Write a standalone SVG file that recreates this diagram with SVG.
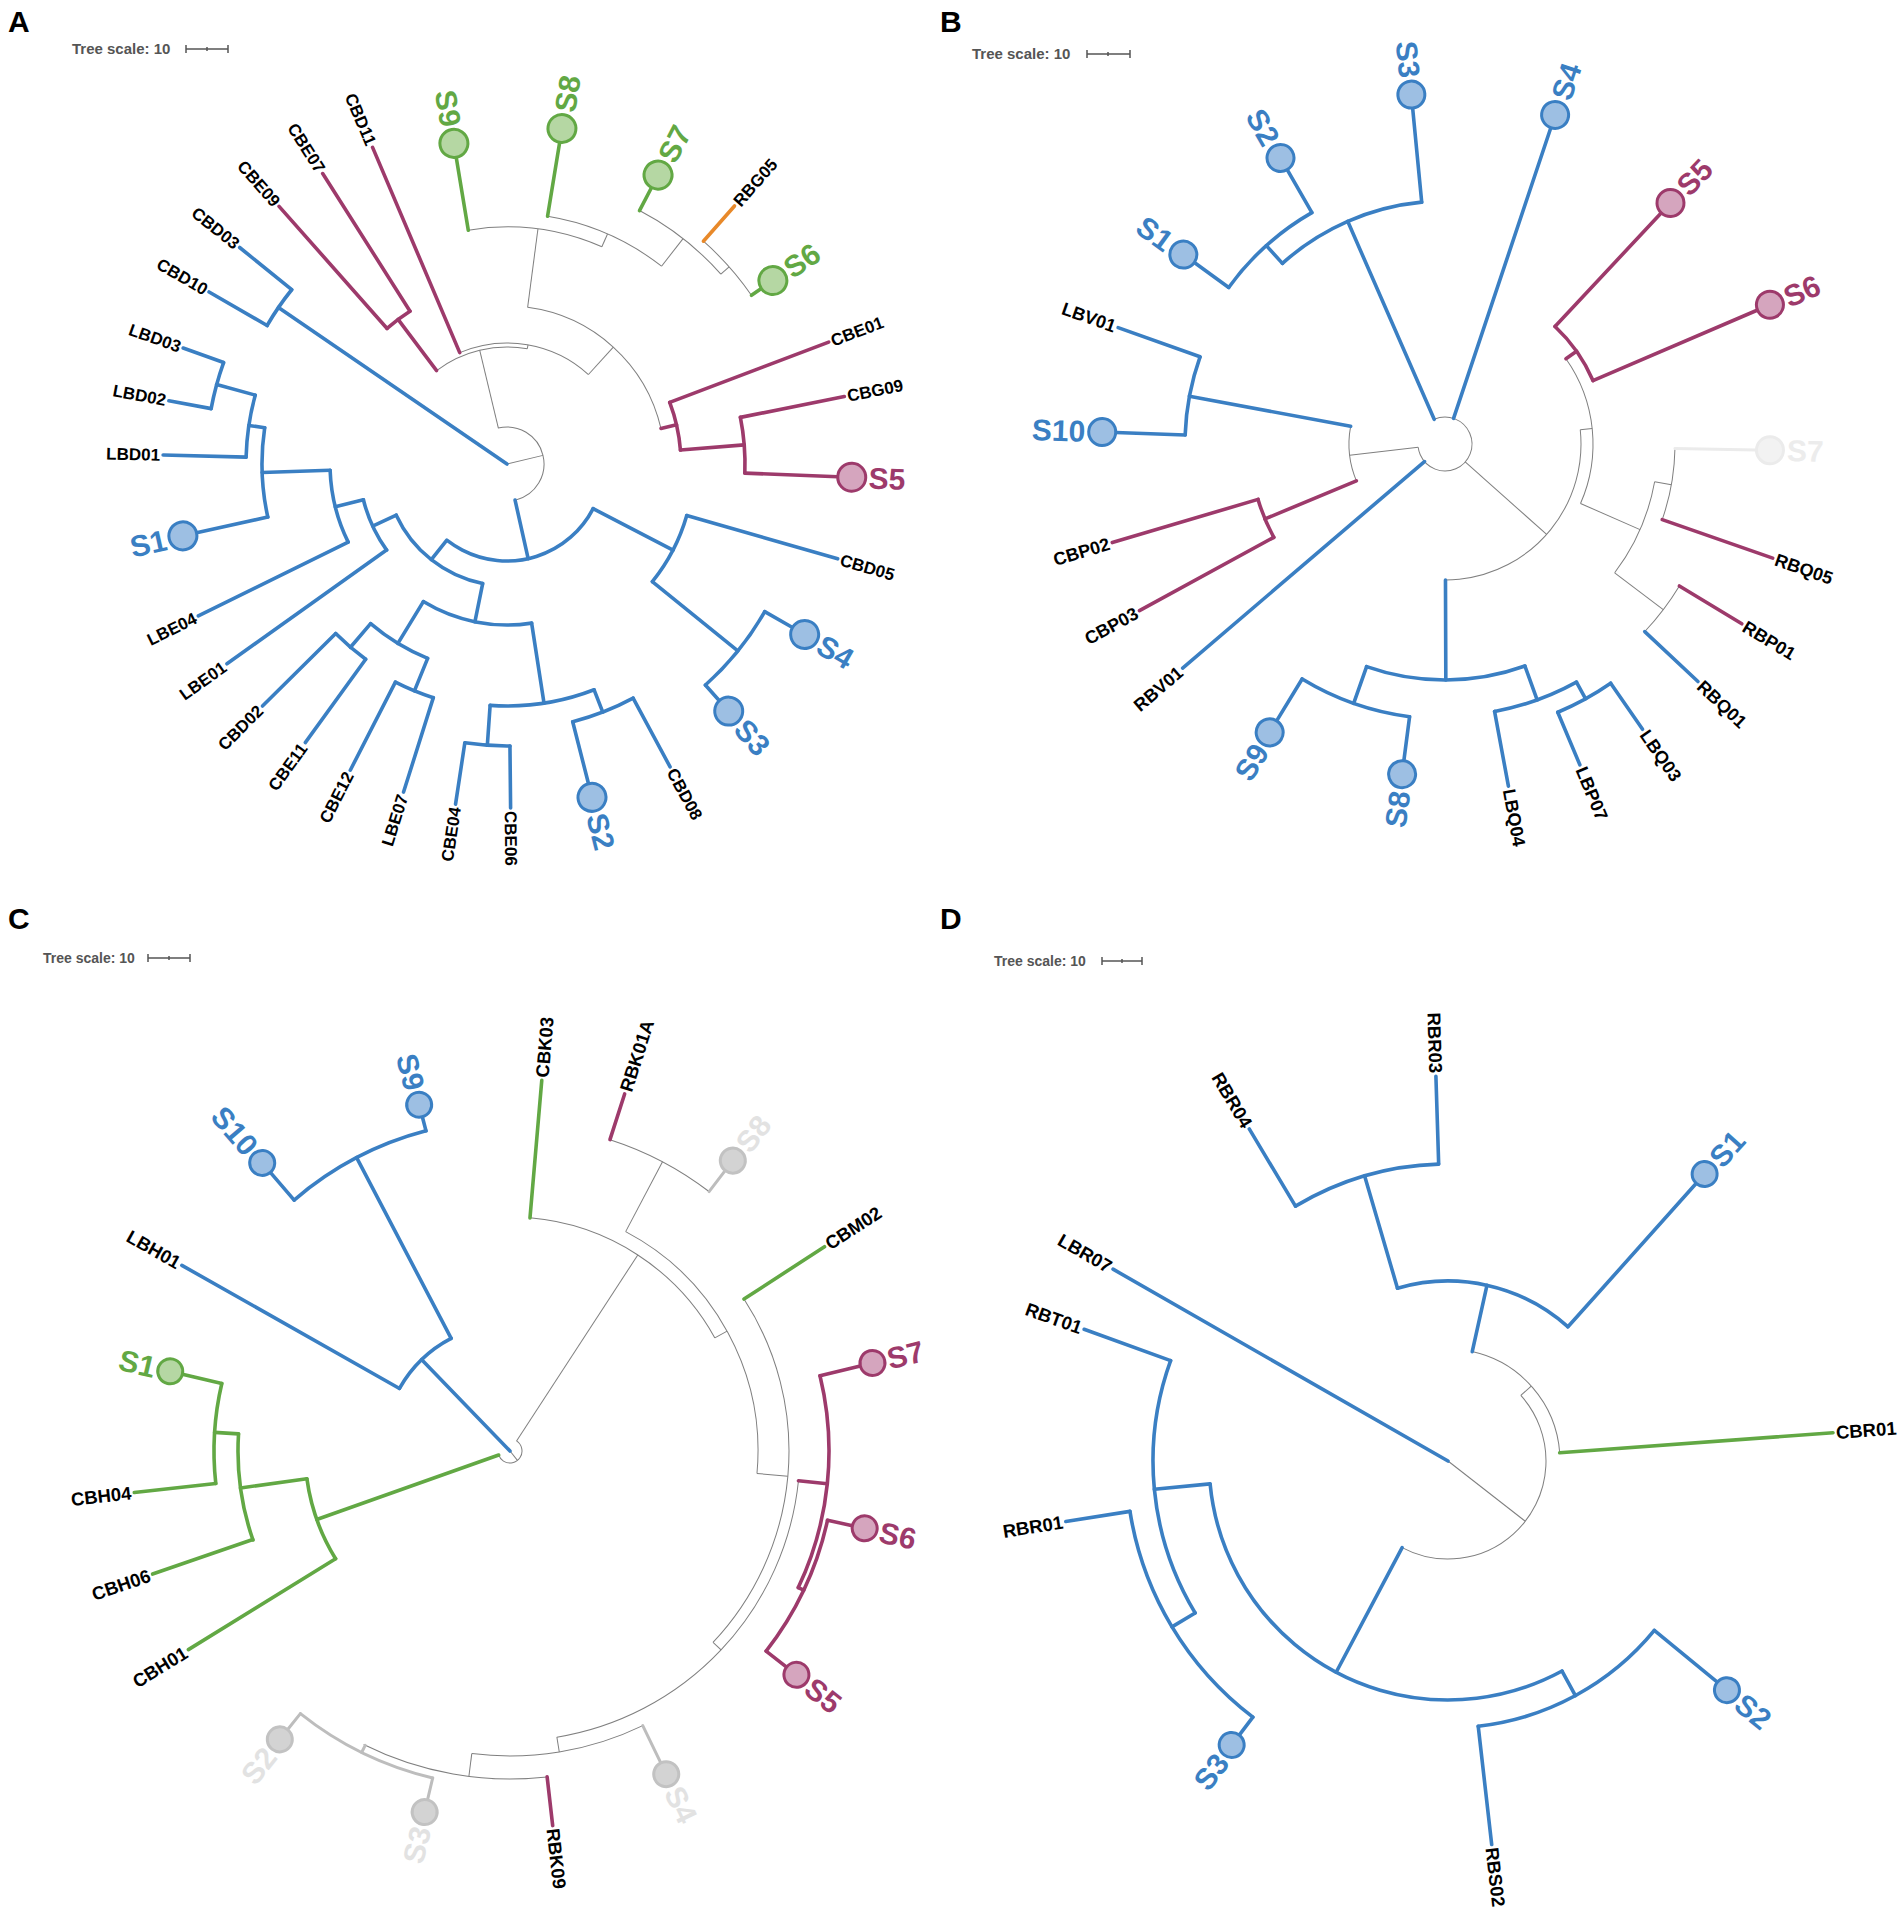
<svg xmlns="http://www.w3.org/2000/svg" width="1902" height="1917" viewBox="0 0 1902 1917">
<style>
.t{stroke:#7f7f7f;stroke-width:1;fill:none}
.b{stroke:#3a7fc3;stroke-width:3.6;fill:none;stroke-linecap:round}
.m{stroke:#9d3a6b;stroke-width:3.6;fill:none;stroke-linecap:round}
.g{stroke:#62a844;stroke-width:3.6;fill:none;stroke-linecap:round}
.o{stroke:#e8892a;stroke-width:3.6;fill:none;stroke-linecap:round}
.lg{stroke:#bdbdbd;stroke-width:3;fill:none;stroke-linecap:round}
.vl{stroke:#ebebeb;stroke-width:3;fill:none;stroke-linecap:round}
text{font-family:"Liberation Sans",Arial,sans-serif;font-weight:bold}
.n{font-size:17px;fill:#000}
.n2{font-size:18px;fill:#000}
.n3{font-size:18.5px;fill:#000}
.s{font-size:30px}
.sb{fill:#3a7fc3}.sm{fill:#9d3a6b}.sg{fill:#62a844}.sl{fill:#e2e2e2}.sv{fill:#ececec}
.cb{fill:#9dbfe3;stroke:#3a7fc3;stroke-width:3}
.cm{fill:#d5a5be;stroke:#9d3a6b;stroke-width:3}
.cg{fill:#b5d7a3;stroke:#62a844;stroke-width:3}
.cl{fill:#d3d3d3;stroke:#c2c2c2;stroke-width:3}
.cv{fill:#f2f2f2;stroke:#ebebeb;stroke-width:3}
.pl{font-size:30px;fill:#000}
.ts{font-size:15px;fill:#555}
.ts2{font-size:14px;fill:#555}
.bar{stroke:#555;stroke-width:1.5;fill:none}
</style>
<rect width="1902" height="1917" fill="#fff"/>

<!-- Panel headers -->
<g id="headers">
<text class="pl" x="8" y="32">A</text>
<text class="pl" x="940" y="32">B</text>
<text class="pl" x="8" y="929">C</text>
<text class="pl" x="940" y="929">D</text>
<text class="ts" x="72" y="54">Tree scale: 10</text>
<path class="bar" d="M186 49H228M186 45V53M228 45V53M207 47V51"/>
<text class="ts" x="972" y="59">Tree scale: 10</text>
<path class="bar" d="M1087 54H1130M1087 50V58M1130 50V58M1108 52V56"/>
<text class="ts2" x="43" y="963">Tree scale: 10</text>
<path class="bar" d="M148 958H190M148 954V962M190 954V962M169 956V960"/>
<text class="ts2" x="994" y="966">Tree scale: 10</text>
<path class="bar" d="M1102 961H1142M1102 957V965M1142 957V965M1122 959V963"/>
</g>

<!-- ================= PANEL A ================= -->
<g id="panelA" transform="translate(507,464)">
<g id="A-connectors">
<g class="t">
<line x2="37" transform="rotate(-13.5)"/>
<circle r="37" pathLength="360" stroke-dasharray="181 360" transform="rotate(-104)"/>
<line x1="37" x2="117" transform="rotate(-103.5)"/>
<circle r="117" pathLength="360" stroke-dasharray="47 360" transform="rotate(-127)"/>
<line x1="117" x2="121" transform="rotate(-80)"/>
<circle r="121" pathLength="360" stroke-dasharray="65.3 360" transform="rotate(-113)"/>
<line x1="121" x2="158" transform="rotate(-47.7)"/>
<circle r="158" pathLength="360" stroke-dasharray="69.5 360" transform="rotate(-82.5)"/>
<line x1="158" x2="237" transform="rotate(-82.5)"/>
<circle r="237" pathLength="360" stroke-dasharray="33 360" transform="rotate(-99.4)"/>
<line x1="237" x2="251" transform="rotate(-66.4)"/>
<circle r="251" pathLength="360" stroke-dasharray="28.7 360" transform="rotate(-80.7)"/>
<line x1="251" x2="286" transform="rotate(-52)"/>
<circle r="286" pathLength="360" stroke-dasharray="20.8 360" transform="rotate(-62.4)"/>
<line x1="286" x2="297" transform="rotate(-41.6)"/>
<circle r="297" pathLength="360" stroke-dasharray="14 360" transform="rotate(-48.6)"/>
</g>
<g class="b">
<line x1="0" x2="277" transform="rotate(-145.6)"/>
<circle r="277" pathLength="360" stroke-dasharray="9 360" transform="rotate(-150)"/>
<line x1="277" x2="344" transform="rotate(-141)"/>
<line x1="277" x2="344" transform="rotate(-150)"/>
<line x1="37" x2="97" transform="rotate(77.4)"/>
<circle r="97" pathLength="360" stroke-dasharray="100.2 360" transform="rotate(27.4)"/>
<line x1="97" x2="122" transform="rotate(128.35)"/>
<circle r="122" pathLength="360" stroke-dasharray="53.7 360" transform="rotate(101.5)"/>
<line x1="122" x2="148" transform="rotate(155.2)"/>
<circle r="148" pathLength="360" stroke-dasharray="21.6 360" transform="rotate(144.4)"/>
<line x1="148" x2="344" transform="rotate(144.5)"/>
<line x1="148" x2="177" transform="rotate(166)"/>
<circle r="177" pathLength="360" stroke-dasharray="24.2 360" transform="rotate(153.8)"/>
<line x1="177" x2="344" transform="rotate(153.8)"/>
<line x1="177" x2="245" transform="rotate(178)"/>
<circle r="245" pathLength="360" stroke-dasharray="21 360" transform="rotate(167.5)"/>
<line x1="245" x2="318" transform="rotate(167.5)"/>
<line x1="245" x2="261" transform="rotate(188.5)"/>
<circle r="261" pathLength="360" stroke-dasharray="13.8 360" transform="rotate(181.5)"/>
<line x1="261" x2="344" transform="rotate(181.5)"/>
<line x1="261" x2="301" transform="rotate(195.3)"/>
<circle r="301" pathLength="360" stroke-dasharray="9.1 360" transform="rotate(190.6)"/>
<line x1="301" x2="344" transform="rotate(190.6)"/>
<line x1="301" x2="344" transform="rotate(199.7)"/>
<line x1="122" x2="161" transform="rotate(101.5)"/>
<circle r="161" pathLength="360" stroke-dasharray="40.1 360" transform="rotate(81.2)"/>
<line x1="161" x2="210" transform="rotate(121.3)"/>
<circle r="210" pathLength="360" stroke-dasharray="18.3 360" transform="rotate(112.2)"/>
<line x1="210" x2="241" transform="rotate(130.5)"/>
<circle r="241" pathLength="360" stroke-dasharray="9.4 360" transform="rotate(125.9)"/>
<line x1="241" x2="344" transform="rotate(125.9)"/>
<line x1="241" x2="344" transform="rotate(135.3)"/>
<line x1="210" x2="245" transform="rotate(112.2)"/>
<circle r="245" pathLength="360" stroke-dasharray="9.6 360" transform="rotate(107.5)"/>
<line x1="245" x2="344" transform="rotate(117.1)"/>
<line x1="245" x2="344" transform="rotate(107.5)"/>
<line x1="161" x2="242" transform="rotate(81.2)"/>
<circle r="242" pathLength="360" stroke-dasharray="25.1 360" transform="rotate(68.9)"/>
<line x1="242" x2="282" transform="rotate(94)"/>
<circle r="282" pathLength="360" stroke-dasharray="9.2 360" transform="rotate(89.4)"/>
<line x1="282" x2="344" transform="rotate(98.6)"/>
<line x1="282" x2="344" transform="rotate(89.4)"/>
<line x1="242" x2="266" transform="rotate(68.9)"/>
<circle r="266" pathLength="360" stroke-dasharray="14 360" transform="rotate(61.7)"/>
<line x1="266" x2="330" transform="rotate(75.7)"/>
<line x1="266" x2="344" transform="rotate(61.7)"/>
<line x1="97" x2="187" transform="rotate(27.4)"/>
<circle r="187" pathLength="360" stroke-dasharray="23 360" transform="rotate(16)"/>
<line x1="187" x2="344" transform="rotate(16)"/>
<line x1="187" x2="297" transform="rotate(39)"/>
<circle r="297" pathLength="360" stroke-dasharray="18.3 360" transform="rotate(29.8)"/>
<line x1="297" x2="329" transform="rotate(29.8)"/>
<line x1="297" x2="318" transform="rotate(48.1)"/>
</g>
<g class="m">
<line x1="117" x2="181" transform="rotate(-127)"/>
<circle r="181" pathLength="360" stroke-dasharray="9.1 360" transform="rotate(-131.5)"/>
<line x1="181" x2="344" transform="rotate(-131.5)"/>
<line x1="181" x2="344" transform="rotate(-122.4)"/>
<line x1="121" x2="344" transform="rotate(-113)"/>
<line x1="158" x2="174" transform="rotate(-13)"/>
<circle r="174" pathLength="360" stroke-dasharray="16.15 360" transform="rotate(-20.75)"/>
<line x1="174" x2="344" transform="rotate(-20.75)"/>
<line x1="174" x2="238" transform="rotate(-4.6)"/>
<circle r="238" pathLength="360" stroke-dasharray="13.5 360" transform="rotate(-11.3)"/>
<line x1="238" x2="344" transform="rotate(-11.3)"/>
<line x1="238" x2="331" transform="rotate(2.2)"/>
</g>
<g class="g">
<line x1="237" x2="311" transform="rotate(-99.4)"/>
<line x1="251" x2="326" transform="rotate(-80.7)"/>
<line x1="286" x2="312" transform="rotate(-62.4)"/>
<line x1="297" x2="309" transform="rotate(-34.6)"/>
</g>
<g class="o"><line x1="297" x2="344" transform="rotate(-48.6)"/></g>
</g>
<g id="A-S9"><circle class="cg" cx="325" r="14" transform="rotate(-99.4)"/><text class="s sg" transform="rotate(80.6)" x="-342" dy="0.35em" text-anchor="end">S9</text></g>
<g id="A-S8"><circle class="cg" cx="340" r="14" transform="rotate(-80.7)"/><text class="s sg" transform="rotate(-80.7)" x="357" dy="0.35em">S8</text></g>
<g id="A-S7"><circle class="cg" cx="326" r="14" transform="rotate(-62.4)"/><text class="s sg" transform="rotate(-62.4)" x="343" dy="0.35em">S7</text></g>
<g id="A-RBG05"><text class="n" transform="rotate(-48.6)" x="347" dy="0.35em">RBG05</text></g>
<g id="A-S6"><circle class="cg" cx="323" r="14" transform="rotate(-34.6)"/><text class="s sg" transform="rotate(-34.6)" x="340" dy="0.35em">S6</text></g>
<g id="A-CBE01"><text class="n" transform="rotate(-20.75)" x="347" dy="0.35em">CBE01</text></g>
<g id="A-CBG09"><text class="n" transform="rotate(-11.3)" x="347" dy="0.35em">CBG09</text></g>
<g id="A-S5"><circle class="cm" cx="345" r="14" transform="rotate(2.2)"/><text class="s sm" transform="rotate(2.2)" x="362" dy="0.35em">S5</text></g>
<g id="A-CBD05"><text class="n" transform="rotate(16)" x="347" dy="0.35em">CBD05</text></g>
<g id="A-S4"><circle class="cb" cx="343" r="14" transform="rotate(29.8)"/><text class="s sb" transform="rotate(29.8)" x="360" dy="0.35em">S4</text></g>
<g id="A-S3"><circle class="cb" cx="332" r="14" transform="rotate(48.1)"/><text class="s sb" transform="rotate(48.1)" x="349" dy="0.35em">S3</text></g>
<g id="A-CBD08"><text class="n" transform="rotate(61.7)" x="347" dy="0.35em">CBD08</text></g>
<g id="A-S2"><circle class="cb" cx="344" r="14" transform="rotate(75.7)"/><text class="s sb" transform="rotate(75.7)" x="361" dy="0.35em">S2</text></g>
<g id="A-CBE06"><text class="n" transform="rotate(89.4)" x="347" dy="0.35em">CBE06</text></g>
<g id="A-CBE04"><text class="n" transform="rotate(278.6)" x="-347" dy="0.35em" text-anchor="end">CBE04</text></g>
<g id="A-LBE07"><text class="n" transform="rotate(287.5)" x="-347" dy="0.35em" text-anchor="end">LBE07</text></g>
<g id="A-CBE12"><text class="n" transform="rotate(297.1)" x="-347" dy="0.35em" text-anchor="end">CBE12</text></g>
<g id="A-CBE11"><text class="n" transform="rotate(305.9)" x="-347" dy="0.35em" text-anchor="end">CBE11</text></g>
<g id="A-CBD02"><text class="n" transform="rotate(315.3)" x="-347" dy="0.35em" text-anchor="end">CBD02</text></g>
<g id="A-LBE01"><text class="n" transform="rotate(324.5)" x="-347" dy="0.35em" text-anchor="end">LBE01</text></g>
<g id="A-LBE04"><text class="n" transform="rotate(333.8)" x="-347" dy="0.35em" text-anchor="end">LBE04</text></g>
<g id="A-S1"><circle class="cb" cx="332" r="14" transform="rotate(167.5)"/><text class="s sb" transform="rotate(347.5)" x="-349" dy="0.35em" text-anchor="end">S1</text></g>
<g id="A-LBD01"><text class="n" transform="rotate(1.5)" x="-347" dy="0.35em" text-anchor="end">LBD01</text></g>
<g id="A-LBD02"><text class="n" transform="rotate(10.6)" x="-347" dy="0.35em" text-anchor="end">LBD02</text></g>
<g id="A-LBD03"><text class="n" transform="rotate(19.7)" x="-347" dy="0.35em" text-anchor="end">LBD03</text></g>
<g id="A-CBD10"><text class="n" transform="rotate(30)" x="-347" dy="0.35em" text-anchor="end">CBD10</text></g>
<g id="A-CBD03"><text class="n" transform="rotate(39)" x="-347" dy="0.35em" text-anchor="end">CBD03</text></g>
<g id="A-CBE09"><text class="n" transform="rotate(48.5)" x="-347" dy="0.35em" text-anchor="end">CBE09</text></g>
<g id="A-CBE07"><text class="n" transform="rotate(57.6)" x="-347" dy="0.35em" text-anchor="end">CBE07</text></g>
<g id="A-CBD11"><text class="n" transform="rotate(67)" x="-347" dy="0.35em" text-anchor="end">CBD11</text></g>
</g>

<!-- ================= PANEL B ================= -->
<g id="panelB" transform="translate(1445,444)">
<g id="B-connectors">
<g class="t">
<circle r="27" pathLength="360" stroke-dasharray="286.9 360" transform="rotate(-113.6)"/>
<line x1="27" x2="96" transform="rotate(173.3)"/>
<circle r="96" pathLength="360" stroke-dasharray="33.8 360" transform="rotate(156.6)"/>
<line x1="27" x2="136" transform="rotate(41.65)"/>
<circle r="136" pathLength="360" stroke-dasharray="95.8 360" transform="rotate(-6)"/>
<line x1="136" x2="148" transform="rotate(-6)"/>
<circle r="148" pathLength="360" stroke-dasharray="58.9 360" transform="rotate(-35.2)"/>
<line x1="148" x2="213" transform="rotate(23.7)"/>
<circle r="213" pathLength="360" stroke-dasharray="27 360" transform="rotate(10.2)"/>
<line x1="213" x2="230" transform="rotate(10.2)"/>
<circle r="230" pathLength="360" stroke-dasharray="18.1 360" transform="rotate(1.1)"/>
<line x1="213" x2="274" transform="rotate(37.2)"/>
<circle r="274" pathLength="360" stroke-dasharray="12 360" transform="rotate(31.2)"/>
</g>
<g class="b">
<line x1="96" x2="260" transform="rotate(190.6)"/>
<circle r="260" pathLength="360" stroke-dasharray="17.6 360" transform="rotate(182)"/>
<line x1="260" x2="347" transform="rotate(199.6)"/>
<line x1="260" x2="329.5" transform="rotate(182)"/>
<line x1="27" x2="345" transform="rotate(139.5)"/>
<line x1="27" x2="243" transform="rotate(-113.6)"/>
<circle r="243" pathLength="360" stroke-dasharray="36.5 360" transform="rotate(-132)"/>
<line x1="243" x2="337" transform="rotate(-95.5)"/>
<line x1="243" x2="267" transform="rotate(-132)"/>
<circle r="267" pathLength="360" stroke-dasharray="24.2 360" transform="rotate(-144.1)"/>
<line x1="267" x2="309" transform="rotate(-144.1)"/>
<line x1="267" x2="316" transform="rotate(-119.9)"/>
<line x1="27" x2="333" transform="rotate(-71.5)"/>
<line x1="136" x2="236" transform="rotate(89.8)"/>
<circle r="236" pathLength="360" stroke-dasharray="39.2 360" transform="rotate(70.2)"/>
<line x1="236" x2="275" transform="rotate(109.4)"/>
<circle r="275" pathLength="360" stroke-dasharray="23.9 360" transform="rotate(97.4)"/>
<line x1="275" x2="323.5" transform="rotate(121.3)"/>
<line x1="275" x2="319.5" transform="rotate(97.4)"/>
<line x1="236" x2="272" transform="rotate(70.2)"/>
<circle r="272" pathLength="360" stroke-dasharray="18.4 360" transform="rotate(61.1)"/>
<line x1="272" x2="348" transform="rotate(79.5)"/>
<line x1="272" x2="291" transform="rotate(61.1)"/>
<circle r="291" pathLength="360" stroke-dasharray="11.9 360" transform="rotate(55.3)"/>
<line x1="291" x2="348" transform="rotate(67.2)"/>
<line x1="291" x2="347" transform="rotate(55.3)"/>
<line x1="274" x2="347" transform="rotate(43.2)"/>
</g>
<g class="m">
<line x1="96" x2="195" transform="rotate(157.4)"/>
<circle r="195" pathLength="360" stroke-dasharray="12.1 360" transform="rotate(151.4)"/>
<line x1="195" x2="347" transform="rotate(163.5)"/>
<line x1="195" x2="348" transform="rotate(151.4)"/>
<line x1="148" x2="161" transform="rotate(-35.2)"/>
<circle r="161" pathLength="360" stroke-dasharray="23.7 360" transform="rotate(-46.9)"/>
<line x1="161" x2="316" transform="rotate(-46.9)"/>
<line x1="161" x2="339.5" transform="rotate(-23.2)"/>
<line x1="230" x2="347" transform="rotate(19.2)"/>
<line x1="274" x2="347" transform="rotate(31.2)"/>
</g>
<g class="vl"><line x1="230" x2="311" transform="rotate(1.1)"/></g>
</g>
<g id="B-S4"><circle class="cb" cx="347" r="13.5" transform="rotate(-71.5)"/><text class="s sb" transform="rotate(-71.5)" x="364" dy="0.35em">S4</text></g>
<g id="B-S5"><circle class="cm" cx="330" r="13.5" transform="rotate(-46.9)"/><text class="s sm" transform="rotate(-46.9)" x="347" dy="0.35em">S5</text></g>
<g id="B-S6"><circle class="cm" cx="353.5" r="13.5" transform="rotate(-23.2)"/><text class="s sm" transform="rotate(-23.2)" x="370" dy="0.35em">S6</text></g>
<g id="B-S7"><circle class="cv" cx="325" r="13.5" transform="rotate(1.1)"/><text class="s sv" transform="rotate(1.1)" x="342" dy="0.35em">S7</text></g>
<g id="B-RBQ05"><text class="n2" transform="rotate(19.2)" x="350" dy="0.35em">RBQ05</text></g>
<g id="B-RBP01"><text class="n2" transform="rotate(31.2)" x="350" dy="0.35em">RBP01</text></g>
<g id="B-RBQ01"><text class="n2" transform="rotate(43.2)" x="350" dy="0.35em">RBQ01</text></g>
<g id="B-LBQ03"><text class="n2" transform="rotate(55.3)" x="350" dy="0.35em">LBQ03</text></g>
<g id="B-LBP07"><text class="n2" transform="rotate(67.2)" x="351" dy="0.35em">LBP07</text></g>
<g id="B-LBQ04"><text class="n2" transform="rotate(79.5)" x="351" dy="0.35em">LBQ04</text></g>
<g id="B-S8"><circle class="cb" cx="333" r="13.5" transform="rotate(97.4)"/><text class="s sb" transform="rotate(277.4)" x="-350" dy="0.35em" text-anchor="end">S8</text></g>
<g id="B-S9"><circle class="cb" cx="337.5" r="13.5" transform="rotate(121.3)"/><text class="s sb" transform="rotate(301.3)" x="-354" dy="0.35em" text-anchor="end">S9</text></g>
<g id="B-RBV01"><text class="n2" transform="rotate(319.5)" x="-348" dy="0.35em" text-anchor="end">RBV01</text></g>
<g id="B-CBP03"><text class="n2" transform="rotate(331.4)" x="-351" dy="0.35em" text-anchor="end">CBP03</text></g>
<g id="B-CBP02"><text class="n2" transform="rotate(343.5)" x="-350" dy="0.35em" text-anchor="end">CBP02</text></g>
<g id="B-S10"><circle class="cb" cx="343" r="13.5" transform="rotate(182)"/><text class="s sb" transform="rotate(2)" x="-360" dy="0.35em" text-anchor="end">S10</text></g>
<g id="B-LBV01"><text class="n2" transform="rotate(19.6)" x="-350" dy="0.35em" text-anchor="end">LBV01</text></g>
<g id="B-S1"><circle class="cb" cx="323" r="13.5" transform="rotate(-144.1)"/><text class="s sb" transform="rotate(35.9)" x="-340" dy="0.35em" text-anchor="end">S1</text></g>
<g id="B-S2"><circle class="cb" cx="330" r="13.5" transform="rotate(-119.9)"/><text class="s sb" transform="rotate(60.1)" x="-347" dy="0.35em" text-anchor="end">S2</text></g>
<g id="B-S3"><circle class="cb" cx="351" r="13.5" transform="rotate(-95.5)"/><text class="s sb" transform="rotate(84.5)" x="-368" dy="0.35em" text-anchor="end">S3</text></g>
</g>

<!-- ================= PANEL C ================= -->
<g id="panelC" transform="translate(510,1451)">
<g id="C-connectors">
<g class="t">
<circle r="12" pathLength="360" stroke-dasharray="217.4 360" transform="rotate(-56.9)"/>
<line x1="0" x2="12" transform="rotate(51.8)"/>
<line x1="12" x2="234" transform="rotate(-56.9)"/>
<circle r="234" pathLength="360" stroke-dasharray="56.2 360" transform="rotate(-85.1)"/>
<line x1="234" x2="248" transform="rotate(-28.9)"/>
<circle r="248" pathLength="360" stroke-dasharray="67.4 360" transform="rotate(-62.2)"/>
<line x1="248" x2="327" transform="rotate(-62.2)"/>
<circle r="327" pathLength="360" stroke-dasharray="19.7 360" transform="rotate(-72.2)"/>
<line x1="248" x2="279" transform="rotate(5.2)"/>
<circle r="279" pathLength="360" stroke-dasharray="76.3 360" transform="rotate(-33)"/>
<line x1="279" x2="290" transform="rotate(43.3)"/>
<circle r="290" pathLength="360" stroke-dasharray="74.8 360" transform="rotate(5.9)"/>
<line x1="290" x2="305" transform="rotate(80.7)"/>
<circle r="305" pathLength="360" stroke-dasharray="33 360" transform="rotate(64.2)"/>
<line x1="305" x2="328" transform="rotate(97.2)"/>
<circle r="328" pathLength="360" stroke-dasharray="33 360" transform="rotate(83.5)"/>
</g>
<g class="lg">
<line x1="328" x2="336" transform="rotate(116.2)"/>
<circle r="336" pathLength="360" stroke-dasharray="25.3 360" transform="rotate(103.3)"/>
<line x1="336" x2="359" transform="rotate(103.3)"/>
<line x1="336" x2="357" transform="rotate(128.6)"/>
<line x1="305" x2="347" transform="rotate(64.2)"/>
<line x1="327" x2="354" transform="rotate(-52.5)"/>
</g>
<g class="b">
<line x1="0" x2="127" transform="rotate(-134)"/>
<circle r="127" pathLength="360" stroke-dasharray="32.9 360" transform="rotate(-150.5)"/>
<line x1="127" x2="377" transform="rotate(-150.5)"/>
<line x1="127" x2="331" transform="rotate(-117.6)"/>
<circle r="331" pathLength="360" stroke-dasharray="26 360" transform="rotate(-130.7)"/>
<line x1="331" x2="367.5" transform="rotate(-130.7)"/>
<line x1="331" x2="345.5" transform="rotate(-104.7)"/>
</g>
<g class="g">
<line x1="12" x2="205" transform="rotate(160.5)"/>
<circle r="205" pathLength="360" stroke-dasharray="23.9 360" transform="rotate(148.3)"/>
<line x1="205" x2="378" transform="rotate(148.3)"/>
<line x1="205" x2="272" transform="rotate(172.2)"/>
<circle r="272" pathLength="360" stroke-dasharray="22.7 360" transform="rotate(160.9)"/>
<line x1="272" x2="378" transform="rotate(161)"/>
<line x1="272" x2="296" transform="rotate(183.6)"/>
<circle r="296" pathLength="360" stroke-dasharray="19.5 360" transform="rotate(173.7)"/>
<line x1="296" x2="378" transform="rotate(173.7)"/>
<line x1="296" x2="336.5" transform="rotate(193.2)"/>
<line x1="234" x2="372" transform="rotate(-85.1)"/>
<line x1="279" x2="375" transform="rotate(-33)"/>
</g>
<g class="m">
<line x1="327" x2="375" transform="rotate(-72.2)"/>
<line x1="290" x2="319" transform="rotate(5.9)"/>
<circle r="319" pathLength="360" stroke-dasharray="39 360" transform="rotate(-13.65)"/>
<line x1="319" x2="360.5" transform="rotate(-13.65)"/>
<line x1="319" x2="325" transform="rotate(25.35)"/>
<circle r="325" pathLength="360" stroke-dasharray="25.7 360" transform="rotate(12.3)"/>
<line x1="325" x2="350.5" transform="rotate(12.3)"/>
<line x1="325" x2="351" transform="rotate(38)"/>
<line x1="328" x2="377" transform="rotate(83.5)"/>
</g>
</g>
<g id="C-CBK03"><text class="n3" transform="rotate(-85.1)" x="375" dy="0.35em">CBK03</text></g>
<g id="C-RBK01A"><text class="n3" transform="rotate(-72.2)" x="378" dy="0.35em">RBK01A</text></g>
<g id="C-S8"><circle class="cl" cx="366" r="12.5" transform="rotate(-52.5)"/><text class="s sl" transform="rotate(-52.5)" x="381.5" dy="0.35em">S8</text></g>
<g id="C-CBM02"><text class="n3" transform="rotate(-33)" x="378" dy="0.35em">CBM02</text></g>
<g id="C-S7"><circle class="cm" cx="373" r="12.5" transform="rotate(-13.65)"/><text class="s sm" transform="rotate(-13.65)" x="388.5" dy="0.35em">S7</text></g>
<g id="C-S6"><circle class="cm" cx="363" r="12.5" transform="rotate(12.3)"/><text class="s sm" transform="rotate(12.3)" x="378.5" dy="0.35em">S6</text></g>
<g id="C-S5"><circle class="cm" cx="363.5" r="12.5" transform="rotate(38)"/><text class="s sm" transform="rotate(38)" x="379" dy="0.35em">S5</text></g>
<g id="C-S4"><circle class="cl" cx="359" r="12.5" transform="rotate(64.2)"/><text class="s sl" transform="rotate(64.2)" x="374.5" dy="0.35em">S4</text></g>
<g id="C-RBK09"><text class="n3" transform="rotate(83.5)" x="380" dy="0.35em">RBK09</text></g>
<g id="C-S3"><circle class="cl" cx="371" r="12.5" transform="rotate(103.3)"/><text class="s sl" transform="rotate(283.3)" x="-386.5" dy="0.35em" text-anchor="end">S3</text></g>
<g id="C-S2"><circle class="cl" cx="369" r="12.5" transform="rotate(128.6)"/><text class="s sl" transform="rotate(308.6)" x="-384.5" dy="0.35em" text-anchor="end">S2</text></g>
<g id="C-CBH01"><text class="n3" transform="rotate(328.3)" x="-381" dy="0.35em" text-anchor="end">CBH01</text></g>
<g id="C-CBH06"><text class="n3" transform="rotate(341)" x="-381" dy="0.35em" text-anchor="end">CBH06</text></g>
<g id="C-CBH04"><text class="n3" transform="rotate(353.7)" x="-381" dy="0.35em" text-anchor="end">CBH04</text></g>
<g id="C-S1"><circle class="cg" cx="349" r="12.5" transform="rotate(193.2)"/><text class="s sg" transform="rotate(13.2)" x="-364.5" dy="0.35em" text-anchor="end">S1</text></g>
<g id="C-LBH01"><text class="n3" transform="rotate(29.5)" x="-380" dy="0.35em" text-anchor="end">LBH01</text></g>
<g id="C-S10"><circle class="cb" cx="380" r="12.5" transform="rotate(-130.7)"/><text class="s sb" transform="rotate(49.3)" x="-395.5" dy="0.35em" text-anchor="end">S10</text></g>
<g id="C-S9"><circle class="cb" cx="358" r="12.5" transform="rotate(-104.7)"/><text class="s sb" transform="rotate(75.3)" x="-373.5" dy="0.35em" text-anchor="end">S9</text></g>
</g>

<!-- ================= PANEL D ================= -->
<g id="panelD" transform="translate(1448,1461)">
<g id="D-connectors">
<g class="t">
<line x1="0" x2="98" transform="rotate(37.95)"/>
<circle r="98" pathLength="360" stroke-dasharray="159.9 360" transform="rotate(-42)"/>
<line x1="98" x2="112" transform="rotate(-42)"/>
<circle r="112" pathLength="360" stroke-dasharray="73.4 360" transform="rotate(-77.6)"/>
</g>
<g class="b">
<line x1="0" x2="386" transform="rotate(-150.2)"/>
<line x1="112" x2="180" transform="rotate(-77.5)"/>
<circle r="180" pathLength="360" stroke-dasharray="58 360" transform="rotate(-106.3)"/>
<line x1="180" x2="372.5" transform="rotate(-48.2)"/>
<line x1="180" x2="297" transform="rotate(-106.3)"/>
<circle r="297" pathLength="360" stroke-dasharray="29.1 360" transform="rotate(-120.9)"/>
<line x1="297" x2="387" transform="rotate(-120.9)"/>
<line x1="297" x2="385" transform="rotate(-91.8)"/>
<line x1="98" x2="239" transform="rotate(117.9)"/>
<circle r="239" pathLength="360" stroke-dasharray="113 360" transform="rotate(61.5)"/>
<line x1="239" x2="295" transform="rotate(174.5)"/>
<circle r="295" pathLength="360" stroke-dasharray="50.9 360" transform="rotate(149)"/>
<line x1="295" x2="387" transform="rotate(199.9)"/>
<line x1="295" x2="322" transform="rotate(149)"/>
<circle r="322" pathLength="360" stroke-dasharray="43.7 360" transform="rotate(127.3)"/>
<line x1="322" x2="387" transform="rotate(171)"/>
<line x1="322" x2="344.5" transform="rotate(127.3)"/>
<line x1="239" x2="267" transform="rotate(61.5)"/>
<circle r="267" pathLength="360" stroke-dasharray="44.1 360" transform="rotate(39.4)"/>
<line x1="267" x2="386" transform="rotate(83.5)"/>
<line x1="267" x2="348.5" transform="rotate(39.4)"/>
</g>
<g class="g">
<line x1="112" x2="386" transform="rotate(-4.2)"/>
</g>
</g>
<g id="D-S1"><circle class="cb" cx="385" r="12.5" transform="rotate(-48.2)"/><text class="s sb" transform="rotate(-48.2)" x="400.5" dy="0.35em">S1</text></g>
<g id="D-CBR01"><text class="n3" transform="rotate(-4.2)" x="389" dy="0.35em">CBR01</text></g>
<g id="D-S2"><circle class="cb" cx="361" r="12.5" transform="rotate(39.4)"/><text class="s sb" transform="rotate(39.4)" x="376.5" dy="0.35em">S2</text></g>
<g id="D-RBS02"><text class="n3" transform="rotate(83.5)" x="389" dy="0.35em">RBS02</text></g>
<g id="D-S3"><circle class="cb" cx="357" r="12.5" transform="rotate(127.3)"/><text class="s sb" transform="rotate(307.3)" x="-372.5" dy="0.35em" text-anchor="end">S3</text></g>
<g id="D-RBR01"><text class="n3" transform="rotate(351)" x="-390" dy="0.35em" text-anchor="end">RBR01</text></g>
<g id="D-RBT01"><text class="n3" transform="rotate(19.9)" x="-390" dy="0.35em" text-anchor="end">RBT01</text></g>
<g id="D-LBR07"><text class="n3" transform="rotate(29.8)" x="-389" dy="0.35em" text-anchor="end">LBR07</text></g>
<g id="D-RBR04"><text class="n3" transform="rotate(59.1)" x="-390" dy="0.35em" text-anchor="end">RBR04</text></g>
<g id="D-RBR03"><text class="n3" transform="rotate(88.2)" x="-388" dy="0.35em" text-anchor="end">RBR03</text></g>
</g>
</svg>
